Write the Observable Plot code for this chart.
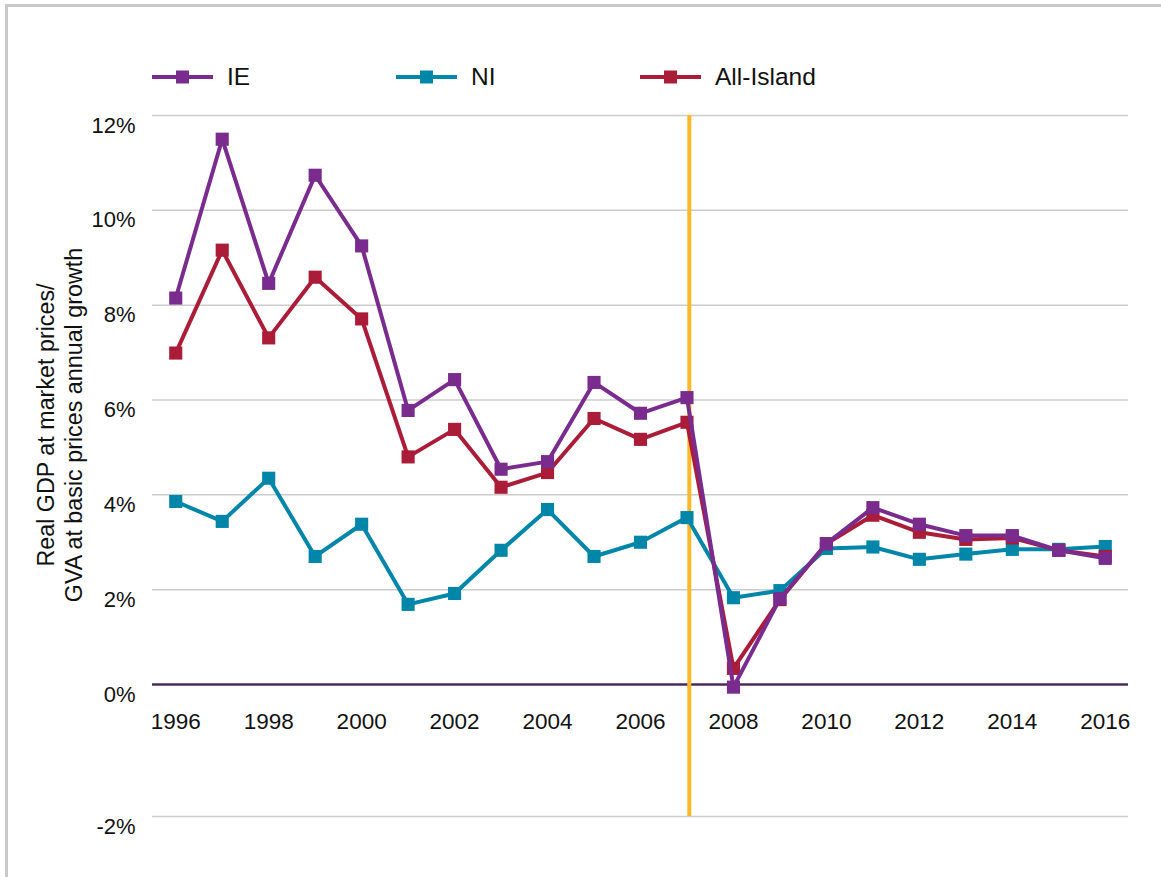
<!DOCTYPE html>
<html>
<head>
<meta charset="utf-8">
<script src="https://cdn.jsdelivr.net/npm/d3@7"></script>
<script src="https://cdn.jsdelivr.net/npm/@observablehq/plot@0.6"></script>
<style>
  body { margin: 0; background: #fff; font-family: "Liberation Sans", Arial, Helvetica, sans-serif; }
  #wrap { position: relative; width: 1161px; height: 877px; overflow: hidden; }
  #frame { position: absolute; left: 5px; top: 4px; width: 1200px; height: 900px;
           border-left: 3px solid #c9c9c9; border-top: 3px solid #c9c9c9; }
  #legend { position: absolute; left: 0; top: 0; width: 1161px; height: 100px; }
  .item { position: absolute; top: 63px; display: flex; align-items: center; font-size: 24.5px; color: #111; }
  .item svg { margin-right: 14px; }
  #ytitle { position: absolute; left: -190px; top: 397px; width: 500px; height: 56px; text-align: center;
            transform-origin: 50% 50%; transform: rotate(-90deg);
            font-size: 23.3px; line-height: 28px; white-space: nowrap; color: #111; }
  #chart { position: absolute; left: 0; top: 100px; }
</style>
</head>
<body>
<div id="wrap">
  <div id="frame"></div>
  <div id="legend"></div>
  <div id="ytitle">Real GDP at market prices/<br>GVA at basic prices annual growth</div>
  <div id="chart"></div>
</div>
<script>
const years = [1996,1997,1998,1999,2000,2001,2002,2003,2004,2005,2006,2007,2008,2009,2010,2011,2012,2013,2014,2015,2016];
const ie = [8.15,11.5,8.46,10.74,9.25,5.78,6.43,4.54,4.70,6.37,5.72,6.05,-0.04,1.81,2.97,3.73,3.38,3.14,3.14,2.83,2.66];
const ni = [3.86,3.44,4.35,2.70,3.38,1.69,1.92,2.83,3.69,2.70,3.00,3.52,1.83,1.98,2.87,2.90,2.64,2.75,2.85,2.85,2.91];
const allIsland = [6.99,9.16,7.31,8.59,7.71,4.80,5.38,4.16,4.47,5.61,5.17,5.53,0.34,1.79,2.97,3.57,3.21,3.06,3.09,2.83,2.70];
const seriesNames = ["IE", "NI", "All-Island"];
const seriesColors = ["#7a2c8e", "#0086a8", "#aa1c37"];
const yTicks = [-2,0,2,4,6,8,10,12];
const xTicks = [1996,1998,2000,2002,2004,2006,2008,2010,2012,2014,2016];
const crisisYear = [2007.05];

const rows = [];
[ie, ni, allIsland].forEach((vals, i) => vals.forEach((v, j) => rows.push({series: seriesNames[i], year: years[j], value: v})));
const drawOrder = ["NI", "All-Island", "IE"];
const colorOf = Object.fromEntries(seriesNames.map((s, i) => [s, seriesColors[i]]));

const marks = [
  Plot.ruleY(yTicks.filter(d => d !== 0), {stroke: "#cccccc", strokeWidth: 1.5}),
  Plot.ruleY([0], {stroke: "#4a2a5c", strokeWidth: 2.5}),
  Plot.ruleX(crisisYear, {stroke: "#fbb829", strokeWidth: 4}),
  Plot.axisY({ticks: yTicks, tickSize: 0, tickPadding: 17, dy: 10, tickFormat: d => d + "%", fontSize: 22, fill: "#111", label: null}),
  Plot.text(xTicks, {x: d => d, y: () => 0, dy: 37, text: d => String(d), fontSize: 22.5, fill: "#111"})
];
for (const s of drawOrder) {
  const data = rows.filter(r => r.series === s);
  marks.push(Plot.line(data, {x: "year", y: "value", stroke: colorOf[s], strokeWidth: 4}));
  marks.push(Plot.dot(data, {x: "year", y: "value", symbol: "square", r: 7.4, fill: colorOf[s], stroke: "none"}));
}

const chart = Plot.plot({
  width: 1161,
  height: 777,
  marginLeft: 152,
  marginRight: 33,
  marginTop: 15,
  marginBottom: 61,
  style: {fontFamily: "'Liberation Sans', Arial, Helvetica, sans-serif", background: "transparent"},
  x: {type: "linear", domain: [1995.5, 2016.5], axis: null},
  y: {type: "linear", domain: [-2, 0, 12], range: [716, 584, 15], axis: null},
  marks
});
document.getElementById("chart").appendChild(chart);

// legend
const legendX = [152, 396, 640];
const legend = document.getElementById("legend");
seriesNames.forEach((s, i) => {
  const div = document.createElement("div");
  div.className = "item";
  div.style.left = legendX[i] + "px";
  div.innerHTML = `<svg width="61" height="14"><line x1="0" x2="61" y1="7" y2="7" stroke="${seriesColors[i]}" stroke-width="4"/><rect x="24" y="0.5" width="13" height="13" fill="${seriesColors[i]}"/></svg><span>${s}</span>`;
  legend.appendChild(div);
});
</script>
</body>
</html>
